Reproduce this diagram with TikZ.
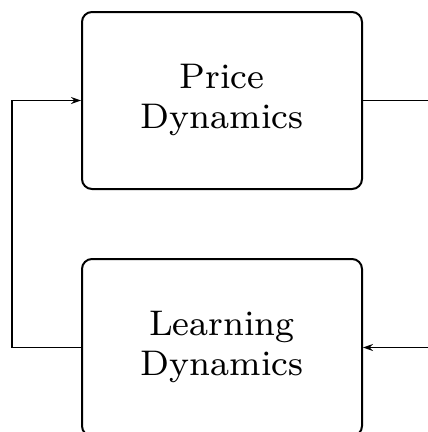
\documentclass[tikz,border=0pt]{standalone}
\usepackage{graphicx}
\usepackage{tikz}
\usetikzlibrary{arrows.meta, positioning}
\newcommand{\boxtext}[1]{\scalebox{4.45}{\fontsize{8}{9}\selectfont\begin{tabular}{@{}c@{}}#1\end{tabular}}}

\begin{document}
\begin{tikzpicture}[
      x=1pt, y=-1pt,
      box/.style={rounded corners=10pt, draw=black, line width=2pt,
                  minimum width=280pt, minimum height=177pt, align=center},
      ln/.style={black, line width=1.2pt},
      ar/.style={-{Stealth[length=10pt,width=7pt]}, black, line width=1.2pt},
    ]
    \useasboundingbox (0,0) rectangle (428,432);
    \node[box] (price) at (222,100.5) {\boxtext{Price\\Dynamics}};
    \node[box] (learn) at (222,347.5) {\boxtext{Learning\\Dynamics}};

    \coordinate (outR) at (428,100.5);
    \coordinate (inR)  at (428,347.5);
    \coordinate (lb)   at (12,347.5);
    \coordinate (lt)   at (12,100.5);

    \draw[ln] (price.east) -- (outR);
    \draw[ar] (inR) -- (learn.east);
    \draw[ar] (learn.west) -- (lb) -- (lt) -- (price.west);
  \end{tikzpicture}
\end{document}
